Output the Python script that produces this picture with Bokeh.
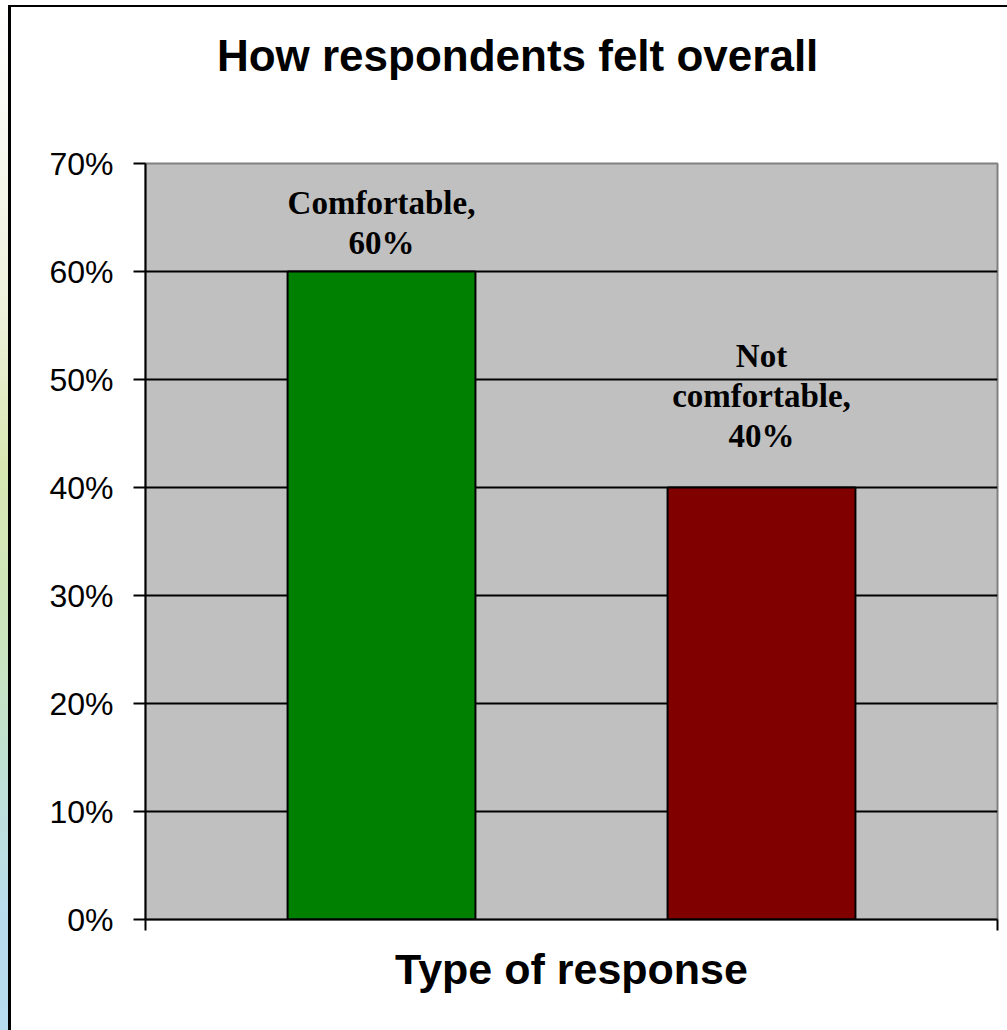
from bokeh.plotting import figure
from bokeh.models import Range1d, FixedTicker, NumeralTickFormatter, Div, ColumnDataSource
from bokeh.layouts import row, column
from bokeh.core.properties import value
from bokeh.embed import file_html
from bokeh.resources import INLINE

# Survey results
categories = ["Comfortable", "Not comfortable"]
shares = [0.60, 0.40]
bar_colors = ["#008000", "#800000"]
y_ticks = [0.0, 0.1, 0.2, 0.3, 0.4, 0.5, 0.6, 0.7]

title_text = "How respondents felt overall"
x_title = "Type of response"

# Layout constants (pixels / data units)
BAR_CENTERS = [0.554, 1.446]
BAR_WIDTH = 0.441
LABEL_GAP = [29, 52]
LINE_H = 40
FIG_W = 996
HEAD_H = 110
TOTAL_H = 1023
TITLE_X = 435
TITLE_Y = 48

# Heading strip holding the chart title (pixel coordinates, y downward)
head = figure(
    width=FIG_W, height=HEAD_H,
    x_range=Range1d(0, FIG_W), y_range=Range1d(HEAD_H, 0),
    output_backend="svg", toolbar_location=None,
    x_axis_location=None, y_axis_location=None,
    min_border_left=0, min_border_right=0,
    min_border_top=0, min_border_bottom=0,
)
head.grid.visible = False
head.outline_line_color = None
head.background_fill_color = "white"
head.border_fill_color = "white"
head.text(x=[TITLE_X], y=[TITLE_Y], text=[title_text],
          text_font=value("Liberation Sans"), text_font_style="bold",
          text_font_size="44px", text_color="black",
          text_align="center", text_baseline="alphabetic")

# Main chart
p = figure(
    width=FIG_W, height=TOTAL_H - HEAD_H,
    x_range=Range1d(0, 2), y_range=Range1d(0, 0.7),
    output_backend="svg", toolbar_location=None,
    min_border_left=134, min_border_right=10,
    min_border_top=156 - HEAD_H, min_border_bottom=111,
)
p.background_fill_color = "#C0C0C0"
p.border_fill_color = "white"
p.outline_line_color = "#808080"
p.outline_line_width = 2

# Grid
p.xgrid.visible = False
p.ygrid.ticker = FixedTicker(ticks=y_ticks[1:-1])
p.ygrid.grid_line_color = "black"
p.ygrid.grid_line_width = 2

# Y axis
ya = p.yaxis[0]
ya.ticker = FixedTicker(ticks=y_ticks)
ya.formatter = NumeralTickFormatter(format="0%")
ya.axis_line_color = "black"
ya.axis_line_width = 2
ya.major_tick_line_color = "black"
ya.major_tick_line_width = 2
ya.major_tick_out = 12
ya.major_tick_in = 0
ya.minor_tick_line_color = None
ya.major_label_standoff = 20
ya.major_label_text_font = "Liberation Sans"
ya.major_label_text_font_size = "32px"
ya.major_label_text_color = "black"

# X axis: end ticks only
xa = p.xaxis[0]
xa.ticker = FixedTicker(ticks=[0, 2])
xa.major_label_overrides = {0: "", 2: ""}
xa.axis_line_color = "black"
xa.axis_line_width = 2
xa.major_tick_line_color = "black"
xa.major_tick_line_width = 2
xa.major_tick_out = 11
xa.major_tick_in = 0
xa.minor_tick_line_color = None
xa.axis_label = x_title
xa.axis_label_text_font = "Liberation Sans"
xa.axis_label_text_font_size = "43px"
xa.axis_label_text_font_style = "bold"
xa.axis_label_text_color = "black"
xa.axis_label_standoff = 14

# Bars
bars = ColumnDataSource(dict(x=BAR_CENTERS, top=shares, color=bar_colors))
p.vbar(x="x", top="top", width=BAR_WIDTH, bottom=0, source=bars,
       fill_color="color", line_color="black", line_width=2)

# Data labels above bars
def wrap(name):
    words = name.split(" ")
    if len(words) > 1:
        return [" ".join(words[:-1]), words[-1] + ","]
    return [name + ","]

lx, ly, lt, loff = [], [], [], []
for i, (cat, val) in enumerate(zip(categories, shares)):
    lines = wrap(cat) + [f"{val:.0%}"]
    n = len(lines)
    for j, ln in enumerate(lines):
        lx.append(BAR_CENTERS[i])
        ly.append(val)
        lt.append(ln)
        loff.append(-(LABEL_GAP[i] + (n - 1 - j) * LINE_H))

p.text(x=lx, y=ly, text=lt, y_offset=loff,
       text_font=value("Liberation Serif"), text_font_style="bold",
       text_font_size="33px", text_color="black",
       text_align="center", text_baseline="alphabetic")

# Frame decorations around the chart
strip = Div(width=8, height=1030, margin=0,
            styles={"background": "linear-gradient(to bottom, #ffffff 0%, #f4f6ea 18%, "
                                  "#eef1dc 30%, #d9e8b2 45%, #cbe5bd 62%, #c0e2d4 74%, "
                                  "#b8dcee 90%, #b8dcf0 100%)"})
top_pad = Div(width=999, height=5, margin=0, styles={"background": "white"})
left_line = Div(width=3, height=1025, margin=0, styles={"background": "black"})
top_line = Div(width=FIG_W, height=2, margin=0, styles={"background": "black"})

layout = row(strip,
             column(top_pad,
                    row(left_line, column(top_line, head, p, spacing=0, margin=0),
                        spacing=0, margin=0),
                    spacing=0, margin=0),
             spacing=0, margin=0)

open("out.html", "w").write(file_html(layout, INLINE))
